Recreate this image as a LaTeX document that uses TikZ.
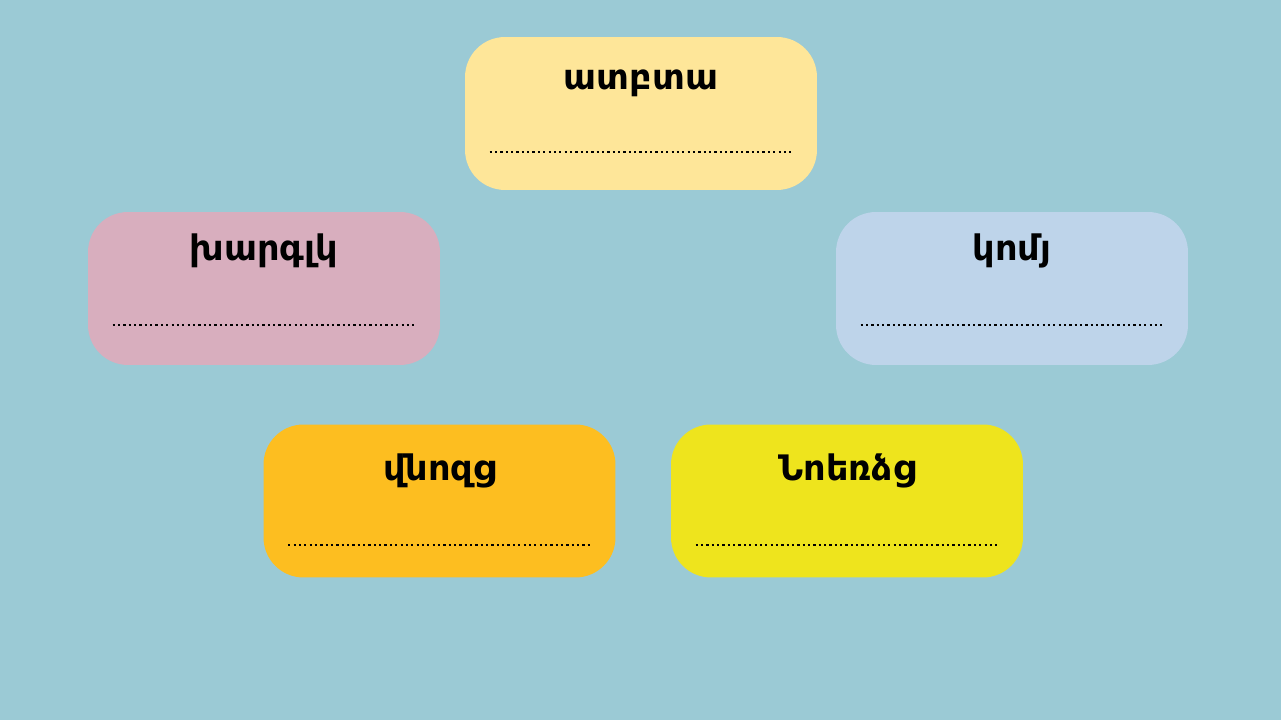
\documentclass[tikz,border=0pt]{standalone}
\usepackage{fontspec}
\setmainfont{DejaVu Sans}
\usepackage{xcolor}
\definecolor{bg}{RGB}{155,202,213}
\definecolor{cardsand}{RGB}{254,230,153}
\definecolor{cardrose}{RGB}{216,174,190}
\definecolor{cardsky}{RGB}{190,212,234}
\definecolor{cardamber}{RGB}{253,190,32}
\definecolor{cardlemon}{RGB}{238,228,29}

\begin{document}
\begin{tikzpicture}[x=0.02cm,y=0.02cm,
    card/.style={rounded corners=0.8cm,minimum width=7.04cm,minimum height=3.06cm,inner sep=0pt},
    cardtitle/.style={font=\bfseries\fontsize{20}{20}\selectfont,anchor=base,inner sep=0pt},
    dotrow/.style={line width=0.045cm,dash pattern=on 0.045cm off 0.062cm}]

  \fill[bg] (0,0) rectangle (1281,720);

  % name / colour / centre / title baseline and dot row below the top edge
  \foreach \name/\col/\x/\y/\tb/\db/\word in {
      atbta/cardsand/641/606.5/1.06/2.3/ատբտա,      % top
      kharglk/cardrose/264/431.5/0.98/2.26/խարգլկ,  % left
      komy/cardsky/1012/431.5/0.98/2.26/կոմյ,       % right
      vnozc/cardamber/439.5/219/1.12/2.42/վնոզց,    % bottom left
      noerdzc/cardlemon/847/219/1.12/2.42/Նոեռձց}{  % bottom right
     \node[card,fill=\col] (\name) at (\x,\y) {};
     \node[cardtitle] (\name-t) at ([yshift=-\tb cm]\name.north) {\word};
     \coordinate (\name-l) at ([shift={(0.5cm,-\db cm)}]\name.north west);
     \coordinate (\name-r) at ([shift={(-0.52cm,-\db cm)}]\name.north east);
     \draw[dotrow] (\name-l) -- (\name-r);
  }

\end{tikzpicture}
\end{document}
